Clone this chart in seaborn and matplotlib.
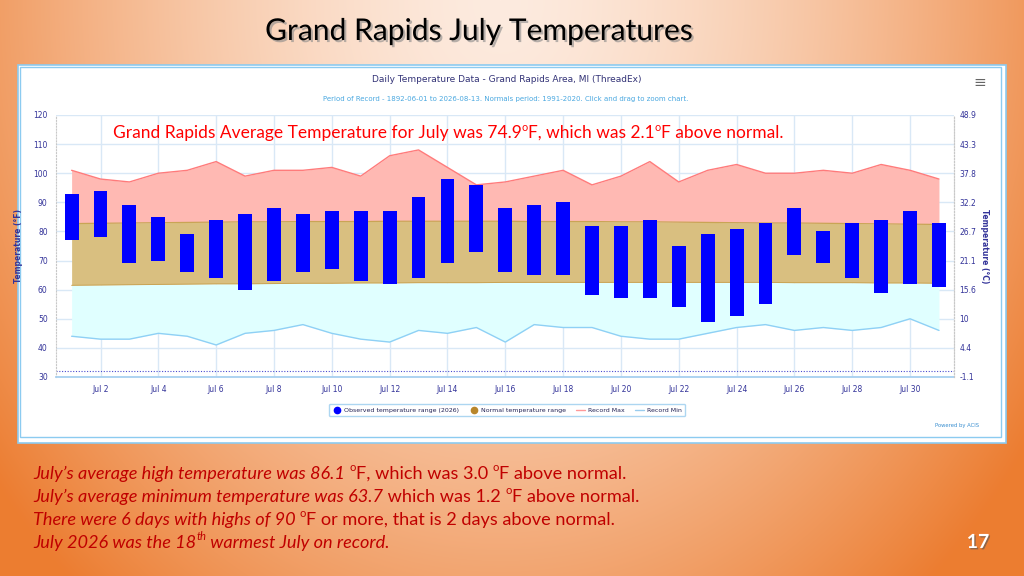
"""
Grand Rapids July temperatures slide, redrawn with seaborn / matplotlib.
"""
import numpy as np
import pandas as pd
import seaborn as sns
import matplotlib
matplotlib.use("Agg")
import matplotlib.pyplot as plt
from matplotlib import patches, patheffects
from matplotlib.lines import Line2D

# ---- data ----
days = list(range(1, 32))
obs_high = [93, 94, 89, 85, 79, 84, 86, 88, 86, 87, 87, 87, 92, 98, 96, 88,
            89, 90, 82, 82, 84, 75, 79, 81, 83, 88, 80, 83, 84, 87, 83]
obs_low = [77, 78, 69, 70, 66, 64, 60, 63, 66, 67, 63, 62, 64, 69, 73, 66,
           65, 65, 58, 57, 57, 54, 49, 51, 55, 72, 69, 64, 59, 62, 61]
rec_max = [101, 98, 97, 100, 101, 104, 99, 101, 101, 102, 99, 106, 108, 102, 96, 97,
           99, 101, 96, 99, 104, 97, 101, 103, 100, 100, 101, 100, 103, 101, 98]
rec_min = [44, 43, 43, 45, 44, 41, 45, 46, 48, 45, 43, 42, 46, 45, 47, 42,
           48, 47, 47, 44, 43, 43, 45, 47, 48, 46, 47, 46, 47, 50, 46]
norm_high = [82.7, 82.8, 82.9, 83.0, 83.1, 83.2, 83.3, 83.3, 83.4, 83.4, 83.4, 83.5,
             83.5, 83.5, 83.5, 83.5, 83.4, 83.4, 83.4, 83.3, 83.3, 83.2, 83.1, 83.0,
             82.9, 82.9, 82.8, 82.7, 82.6, 82.5, 82.4]
norm_low = [61.5, 61.6, 61.7, 61.8, 61.9, 62.0, 62.0, 62.1, 62.2, 62.2, 62.3, 62.3,
            62.4, 62.4, 62.4, 62.5, 62.5, 62.5, 62.5, 62.5, 62.5, 62.5, 62.5, 62.5,
            62.5, 62.4, 62.4, 62.4, 62.3, 62.3, 62.2]
freezing = 32
tick_days = list(range(2, 31, 2))
tick_labels = [f"Jul {d}" for d in tick_days]
f_ticks = list(range(30, 121, 10))
c_labels = ["-1.1", "4.4", "10", "15.6", "21.1", "26.7", "32.2", "37.8", "43.3", "48.9"]

W, H = 1024, 576
NAVY = "#333399"

sns.set_theme(style="white")
plt.rcParams["font.family"] = ["DejaVu Sans"]

fig = plt.figure(figsize=(W / 100, H / 100), dpi=100)


def fx(x):
    return x / W


def fy(y):
    return 1 - y / H


# slide background: light peach at top centre, orange towards corners
gx, gy = np.meshgrid(np.arange(W), np.arange(H))
d = np.sqrt(((gx - 500) / 640.0) ** 2 + (gy / 780.0) ** 2)
t = np.clip(d, 0, 1) ** 1.5
light = np.array([253, 235, 223]) / 255
dark = np.array([236, 125, 49]) / 255
img = light + (dark - light) * t[..., None]
bg = fig.add_axes([0, 0, 1, 1], zorder=-5)
bg.imshow(img, extent=[0, 1, 0, 1], aspect="auto", origin="upper")
bg.set_xlim(0, 1)
bg.set_ylim(0, 1)
bg.axis("off")

# chart panel
bg.add_patch(patches.Rectangle((fx(18), fy(443)), fx(1006) - fx(18), fy(65) - fy(443),
                               facecolor="white", edgecolor="#8ccbf0", lw=1.2))
bg.add_patch(patches.Rectangle((fx(20), fy(437)), fx(1001) - fx(20), fy(67) - fy(437),
                               facecolor="white", edgecolor="#8ccbf0", lw=1.0))

# main axes
ax = fig.add_axes([fx(56), fy(377), (954 - 56) / W, (377 - 115) / H])
ax.set_facecolor("white")

ax.fill_between(days, norm_high, rec_max, color="#ffb9b3", lw=0, zorder=1)
ax.fill_between(days, norm_low, norm_high, color="#d9bf80", lw=0, zorder=1)
ax.fill_between(days, rec_min, norm_low, color="#e0ffff", lw=0, zorder=1)
ax.plot(days, norm_high, color="#c9a455", lw=0.9, zorder=2)
ax.plot(days, norm_low, color="#c9a455", lw=0.7, zorder=2)

df = pd.DataFrame({"day": days, "Record Max": rec_max, "Record Min": rec_min})
sns.lineplot(data=df, x="day", y="Record Max", color="#ff7b7b", lw=1.0, ax=ax, legend=False, zorder=2)
sns.lineplot(data=df, x="day", y="Record Min", color="#8fd0f5", lw=1.0, ax=ax, legend=False, zorder=2)

heights = np.array(obs_high) - np.array(obs_low)
ax.bar(days, heights, bottom=obs_low, width=0.48, color="#0000ff", lw=0, zorder=3)

ax.axhline(freezing, color="#4a4ad0", ls=(0, (1, 1.5)), lw=0.8, zorder=2)

ax.set_xlim(0.46, 31.52)
ax.set_ylim(30, 120)
ax.set_xticks(tick_days, tick_labels)
ax.set_yticks(f_ticks)
ax.grid(True, color="#d9e8f6", lw=1.0)
ax.set_axisbelow(True)
ax.tick_params(length=0, labelsize=5.5, labelcolor=NAVY, pad=6)
ax.set_xlabel("")
ax.set_ylabel("Temperature (\u00b0F)", fontsize=5.5, fontweight="bold", color=NAVY, labelpad=7)
ax.spines["top"].set_visible(False)
for s in ["left", "right"]:
    ax.spines[s].set_color("#c8c8c8")
    ax.spines[s].set_linestyle(":")
    ax.spines[s].set_linewidth(0.8)
ax.spines["bottom"].set_color("#a8d0f0")
ax.spines["bottom"].set_linewidth(1.3)

ax2 = ax.twinx()
ax2.set_ylim(30, 120)
ax2.set_yticks(f_ticks, c_labels)
ax2.tick_params(length=0, labelsize=5.5, labelcolor=NAVY, pad=4)
ax2.set_ylabel("Temperature (\u00b0C)", fontsize=5.5, fontweight="bold", color=NAVY,
               rotation=-90, labelpad=9)
for s in ["top", "left", "bottom"]:
    ax2.spines[s].set_visible(False)
ax2.spines["right"].set_color("#c8c8c8")
ax2.spines["right"].set_linestyle(":")
ax2.spines["right"].set_linewidth(0.8)
ax2.grid(False)

# panel texts
fig.text(fx(507), fy(80), "Daily Temperature Data - Grand Rapids Area, MI (ThreadEx)",
         fontsize=6.5, color="#333377", ha="center", va="center")
fig.text(fx(506), fy(99),
         "Period of Record - 1892-06-01 to 2026-08-13. Normals period: 1991-2020. Click and drag to zoom chart.",
         fontsize=5.0, color="#4aa8e0", ha="center", va="center")
fig.text(fx(980), fy(83), "\u2261", fontsize=11, color="#666666", ha="center", va="center")
fig.text(fx(957), fy(426), "Powered by ACIS", fontsize=3.8, color="#3a8fd0", ha="center", va="center")

handles = [
    Line2D([], [], marker="o", ls="", markerfacecolor="#0000ff", markeredgecolor="#0000ff", markersize=4.5),
    Line2D([], [], marker="o", ls="", markerfacecolor="#b8862b", markeredgecolor="#b8862b", markersize=4.5),
    Line2D([], [], color="#ff9999", lw=1),
    Line2D([], [], color="#99ccee", lw=1),
]
labels = ["Observed temperature range (2026)", "Normal temperature range", "Record Max", "Record Min"]
leg = fig.legend(handles, labels, loc="center", bbox_to_anchor=(fx(507), fy(410)), ncol=4,
                 fontsize=4.5, frameon=True, fancybox=True, edgecolor="#99ccee",
                 handlelength=1.4, handletextpad=0.5, columnspacing=1.6, borderpad=0.6)
leg.get_frame().set_linewidth(1.0)
for txt in leg.get_texts():
    txt.set_color("#222255")

# rich text lines made of runs (text, style, superscript)
renderer = fig.canvas.get_renderer()


def text_width(s, size, style, family):
    a = fig.text(0, 0, s + "|", fontsize=size, style=style, family=family)
    b = fig.text(0, 0, "|", fontsize=size, style=style, family=family)
    w = a.get_window_extent(renderer).width - b.get_window_extent(renderer).width
    a.remove()
    b.remove()
    return w


def draw_runs(x, base, runs, size, color, family="Lato"):
    for s, style, sup in runs:
        fs = size * 0.62 if sup else size
        yoff = size * 0.42 * 100 / 72 if sup else 0
        fig.text(fx(x), fy(base - yoff), s, fontsize=fs, style=style, color=color,
                 family=family, ha="left", va="baseline")
        x += text_width(s, fs, style, family)


draw_runs(113, 138, [
    ("Grand Rapids Average Temperature for July was 74.9", "normal", False),
    ("o", "normal", True),
    ("F, which was 2.1", "normal", False),
    ("o", "normal", True),
    ("F above normal.", "normal", False),
], 12.5, "#ff0000")

DARKRED = "#c00000"
bottom_lines = [
    [("July\u2019s average high temperature was 86.1 ", "italic", False), ("o", "normal", True),
     ("F, which was 3.0 ", "normal", False), ("o", "normal", True), ("F above normal.", "normal", False)],
    [("July\u2019s average minimum temperature was 63.7", "italic", False),
     (" which was 1.2 ", "normal", False), ("o", "normal", True), ("F above normal.", "normal", False)],
    [("There were 6 days with highs of 90 ", "italic", False), ("o", "normal", True),
     ("F or more, that is 2 days above normal.", "normal", False)],
    [("July 2026 was the 18", "italic", False), ("th", "italic", True),
     (" warmest July on record.", "italic", False)],
]
for i, runs in enumerate(bottom_lines):
    draw_runs(33, 479 + 23 * i, runs, 13.1, DARKRED)

# slide title and number
fig.text(fx(479), fy(40), "Grand Rapids July Temperatures", fontsize=21.6, family="Lato",
         color="black", ha="center", va="baseline",
         path_effects=[patheffects.withSimplePatchShadow(offset=(1.5, -1.5), shadow_rgbFace="#888888", alpha=0.6)])
fig.text(fx(978), fy(548), "17", fontsize=14, family="Lato", fontweight="bold",
         color="white", ha="center", va="baseline",
         path_effects=[patheffects.withSimplePatchShadow(offset=(1, -1), shadow_rgbFace="#555555", alpha=0.6)])

fig.savefig("out.png", dpi=100)
